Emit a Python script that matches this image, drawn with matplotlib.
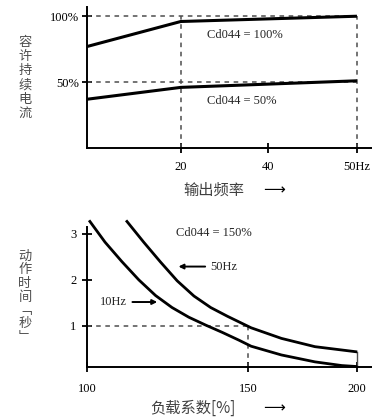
import numpy as np
import matplotlib
matplotlib.use("Agg")
import matplotlib.pyplot as plt

plt.rcParams["font.family"] = ["Liberation Serif", "Noto Sans CJK SC", "DejaVu Sans"]

# --- upper chart: allowed current vs output frequency ---
freq_hz = [0, 20, 50]
cur_100 = [77, 96, 100]
cur_50 = [37, 46, 51]
freq_ticks = [20, 40, 50]
freq_ticklabels = ["20", "40", "50Hz"]
cur_ticks = [50, 100]
cur_ticklabels = ["50%", "100%"]

# --- lower chart: trip time vs load factor ---
load_10hz = [100.9, 105.6, 110.8, 116.1, 121.3, 126.4, 131.6, 136.8, 142.0, 147.2,
             151.4, 165.3, 180.7, 193.0, 199.5]
time_10hz = [3.27, 2.82, 2.40, 2.00, 1.66, 1.40, 1.19, 1.02, 0.86, 0.69,
             0.56, 0.37, 0.22, 0.14, 0.12]
load_50hz = [112.4, 117.6, 122.8, 128.0, 133.2, 138.4, 143.6, 151.4, 165.3, 180.7, 199.5]
time_50hz = [3.27, 2.82, 2.39, 1.98, 1.65, 1.40, 1.21, 0.96, 0.73, 0.55, 0.44]
load_ticks = [100, 150, 200]
load_ticklabels = ["100", "150", "200"]
time_ticks = [1, 2, 3]


def piecewise_scale(vals, fracs):
    # schematic (not to scale) axis: tick values placed at fixed axis fractions
    v = np.array(vals, float)
    f = np.array(fracs, float)
    sv = (v[-1] - v[-2]) / (f[-1] - f[-2])
    sv0 = (v[1] - v[0]) / (f[1] - f[0])
    v = np.concatenate([[v[0] - 1e4 * sv0], v, [v[-1] + 1e4 * sv]])
    f = np.concatenate([[f[0] - 1e4], f, [f[-1] + 1e4]])
    fwd = lambda x: np.interp(x, v, f)
    inv = lambda y: np.interp(y, f, v)
    return fwd, inv


dash = dict(color="0.3", lw=1.1, ls=(0, (3, 3)))
cjk = ["Noto Sans CJK SC", "DejaVu Sans"]
arrow = dict(arrowstyle="-|>", color="black", lw=1.4, mutation_scale=7, shrinkA=2, shrinkB=0)

fig = plt.figure(figsize=(3.72, 4.17), dpi=100)

# upper axes
ax1 = fig.add_axes([87 / 372, 1 - 148 / 417, 285 / 372, 141 / 417])
ax1.set_xscale("function", functions=piecewise_scale([0, 20, 40, 50], [0, 0.329, 0.636, 0.947]))
ax1.set_xlim(0, 51.7)
ax1.set_ylim(0, 107)
ax1.plot([0, 50], [100, 100], **dash)
ax1.plot([0, 50], [50, 50], **dash)
ax1.plot([20, 20], [0, 100], **dash)
ax1.plot([50, 50], [0, 100], **dash)
ax1.plot(freq_hz, cur_100, color="black", lw=2.2, solid_capstyle="butt")
ax1.plot(freq_hz, cur_50, color="black", lw=2.2, solid_capstyle="butt")
ax1.text(26, 86, "Cd044 = 100%", fontsize=9, va="center", color="0.15")
ax1.text(26, 36, "Cd044 = 50%", fontsize=9, va="center", color="0.15")
ax1.set_xticks(freq_ticks, freq_ticklabels, fontsize=9)
ax1.set_yticks(cur_ticks, cur_ticklabels, fontsize=9)
ax1.tick_params(direction="inout", length=7, width=1.3)
ax1.tick_params(axis="y", pad=2)
ax1.tick_params(axis="x", pad=6)
for s in ["top", "right"]:
    ax1.spines[s].set_visible(False)
for s in ["left", "bottom"]:
    ax1.spines[s].set_linewidth(1.4)
fig.text(25 / 372, 1 - 78 / 417, "\n".join("容许持续电流"), family=cjk, fontsize=9.5,
         ha="center", va="center", linespacing=1.12, color="0.3")
fig.text(183 / 372, 1 - 190 / 417, "输出频率", family=cjk, fontsize=11,
         ha="left", va="center", color="0.25")
fig.text(263 / 372, 1 - 190 / 417, "⟶", family=["DejaVu Sans"], fontsize=11,
         ha="left", va="center")

# lower axes
ax2 = fig.add_axes([87 / 372, 1 - 366.7 / 417, 285 / 372, 151.7 / 417])
ax2.set_xscale("function", functions=piecewise_scale([100, 150, 200], [0, 0.565, 0.947]))
ax2.set_xlim(100, 206.9)
ax2.set_ylim(0.115, 3.41)
ax2.plot([100, 150], [1, 1], **dash)
ax2.plot([150, 150], [0.115, 1], **dash)
ax2.plot([200, 200], [0.115, time_50hz[-1]], color="0.3", lw=1.0)
ax2.plot(load_10hz, time_10hz, color="black", lw=2.0, clip_on=False)
ax2.plot(load_50hz, time_50hz, color="black", lw=2.0, clip_on=False)
ax2.text(127.5, 3.02, "Cd044 = 150%", fontsize=9, va="center", color="0.15")
ax2.annotate("50Hz", xy=(128.4, 2.29), xytext=(138.4, 2.29), fontsize=9, va="center",
             color="0.15", arrowprops=arrow)
ax2.annotate("10Hz", xy=(121.8, 1.52), xytext=(104, 1.52), fontsize=9, va="center",
             color="0.15", arrowprops=arrow)
ax2.set_xticks(load_ticks, load_ticklabels, fontsize=9)
ax2.set_yticks(time_ticks, [str(t) for t in time_ticks], fontsize=9)
ax2.tick_params(direction="inout", length=7, width=1.3)
ax2.tick_params(axis="y", pad=4)
ax2.tick_params(axis="x", pad=8)
ax2.spines["left"].set_bounds(0.115, 3.15)
for s in ["top", "right"]:
    ax2.spines[s].set_visible(False)
for s in ["left", "bottom"]:
    ax2.spines[s].set_linewidth(1.4)
fig.text(25 / 372, 1 - 297 / 417, "\n".join("动作时间") + "\n﹁\n秒\n﹂", family=cjk, fontsize=9.5,
         ha="center", va="center", linespacing=1.05, color="0.3")
fig.text(150 / 372, 1 - 408 / 417, "负载系数[%]", family=cjk, fontsize=11,
         ha="left", va="center", color="0.25")
fig.text(263 / 372, 1 - 408 / 417, "⟶", family=["DejaVu Sans"], fontsize=11,
         ha="left", va="center")

fig.savefig("out.png", dpi=100)
